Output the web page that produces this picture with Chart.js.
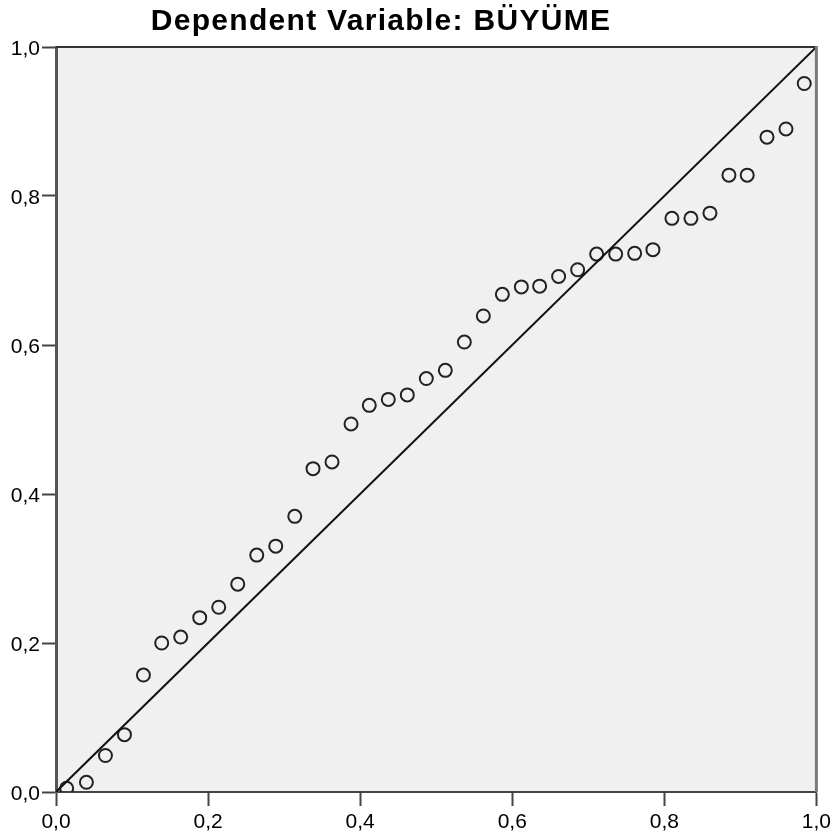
<!DOCTYPE html>
<html>
<head>
<meta charset="utf-8">
<script src="https://cdn.jsdelivr.net/npm/chart.js@4/dist/chart.umd.min.js"></script>
<style>
  html, body { margin: 0; padding: 0; background: #ffffff; }
  #wrap { width: 835px; height: 839px; }
</style>
</head>
<body>
<div id="wrap"><canvas id="c" width="835" height="839"></canvas></div>
<script>
// Observed cumulative probability (x) and expected cumulative probability (y)
const observedProb = [0.014,0.040,0.065,0.090,0.115,0.139,0.164,0.189,0.214,0.239,
                      0.264,0.289,0.314,0.338,0.363,0.388,0.412,0.437,0.462,0.487,
                      0.512,0.537,0.562,0.587,0.612,0.636,0.661,0.686,0.711,0.736,
                      0.761,0.785,0.810,0.835,0.860,0.885,0.909,0.935,0.960,0.984];
const expectedProb = [0.005,0.013,0.049,0.077,0.157,0.200,0.208,0.234,0.248,0.279,
                      0.318,0.330,0.370,0.434,0.443,0.494,0.519,0.527,0.533,0.555,
                      0.566,0.604,0.639,0.668,0.678,0.679,0.692,0.701,0.722,0.722,
                      0.723,0.728,0.770,0.770,0.777,0.828,0.828,0.879,0.890,0.951];
const refLineX = [0, 1];
const refLineY = [0, 1];
const tickLabels = ['0,0', '0,2', '0,4', '0,6', '0,8', '1,0'];
const titleText = 'Dependent Variable: BÜYÜME';

const points = observedProb.map((x, i) => ({ x: x, y: expectedProb[i] }));
const refLine = refLineX.map((x, i) => ({ x: x, y: refLineY[i] }));

const plotBg = {
  id: 'plotBg',
  beforeDraw(chart) {
    const { ctx, chartArea: a } = chart;
    ctx.save();
    ctx.fillStyle = '#f0f0f0';
    ctx.fillRect(a.left, a.top, a.right - a.left, a.bottom - a.top);
    ctx.restore();
  },
  afterDatasetsDraw(chart) {
    const { ctx, chartArea: a } = chart;
    ctx.save();
    ctx.lineWidth = 2;
    ctx.strokeStyle = '#333333';
    ctx.beginPath();
    ctx.moveTo(a.left, a.top);
    ctx.lineTo(a.right, a.top);
    ctx.stroke();
    ctx.lineWidth = 3;
    ctx.strokeStyle = '#7a7a7a';
    ctx.beginPath();
    ctx.moveTo(a.right, a.top - 1);
    ctx.lineTo(a.right, a.bottom);
    ctx.stroke();
    ctx.restore();
  },
  afterLayout(chart) {
    const tb = chart.titleBlock;
    if (tb) {
      tb.right -= 56;
      if (!tb._spaced) {
        const orig = tb.draw.bind(tb);
        tb.draw = function (area) {
          const ctx = chart.ctx;
          const prev = ctx.letterSpacing;
          ctx.letterSpacing = '1.3px';
          orig(area);
          ctx.letterSpacing = prev || '0px';
        };
        tb._spaced = true;
      }
    }
  }
};

const tickFont = { family: '"Liberation Sans", Arial, sans-serif', size: 21 };

new Chart(document.getElementById('c'), {
  type: 'scatter',
  data: {
    datasets: [
      {
        label: 'line',
        data: refLine,
        showLine: true,
        borderColor: '#111111',
        borderWidth: 2,
        pointRadius: 0,
        fill: false
      },
      {
        label: 'points',
        data: points,
        showLine: false,
        pointStyle: 'circle',
        pointRadius: 6.5,
        pointBorderWidth: 2,
        pointBorderColor: '#222222',
        pointBackgroundColor: 'rgba(0,0,0,0)'
      }
    ]
  },
  options: {
    responsive: false,
    animation: false,
    devicePixelRatio: 1,
    layout: { padding: { left: 0, right: 17, top: 0, bottom: 0 } },
    plugins: {
      legend: { display: false },
      tooltip: { enabled: false },
      title: {
        display: true,
        text: titleText,
        color: '#000000',
        font: { family: '"Liberation Sans", Arial, sans-serif', size: 30, weight: 'bold', lineHeight: 1.2 },
        padding: { top: 4, bottom: 7 }
      }
    },
    scales: {
      x: {
        type: 'linear',
        min: 0,
        max: 1,
        afterFit(scale) { scale.height = 47; },
        ticks: {
          stepSize: 0.2,
          color: '#000000',
          font: tickFont,
          padding: 4,
          maxRotation: 0,
          callback: (v, i) => tickLabels[i]
        },
        grid: {
          display: true,
          drawOnChartArea: false,
          drawTicks: true,
          tickLength: 14,
          tickColor: '#444444',
          tickWidth: 2
        },
        border: { display: true, color: '#444444', width: 2 }
      },
      y: {
        type: 'linear',
        min: 0,
        max: 1,
        afterFit(scale) { scale.width = 56; },
        ticks: {
          stepSize: 0.2,
          color: '#000000',
          font: tickFont,
          padding: 2,
          labelOffset: 2,
          callback: (v, i) => tickLabels[i]
        },
        grid: {
          display: true,
          drawOnChartArea: false,
          drawTicks: true,
          tickLength: 14,
          tickColor: '#444444',
          tickWidth: 2
        },
        border: { display: true, color: '#555555', width: 3 }
      }
    }
  },
  plugins: [plotBg]
});
</script>
</body>
</html>
